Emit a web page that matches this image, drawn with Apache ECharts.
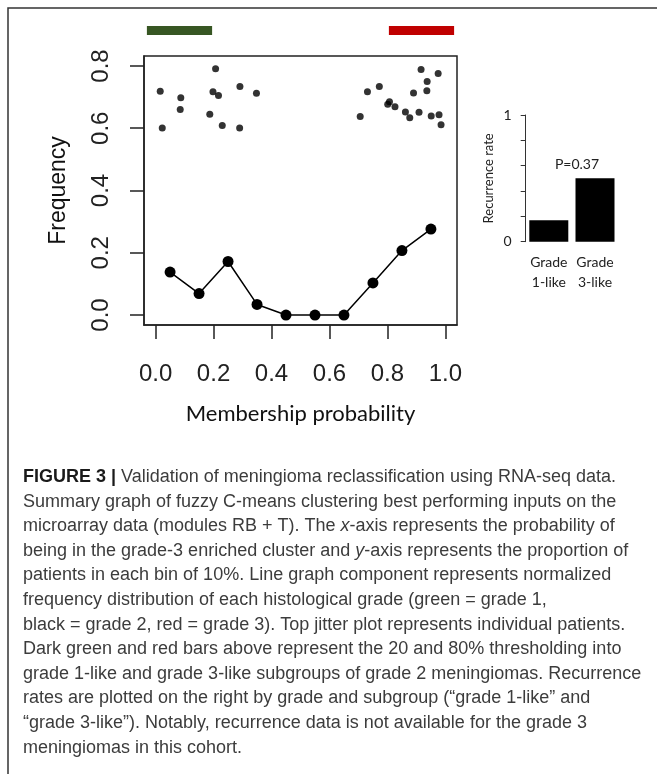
<!DOCTYPE html>
<html>
<head>
<meta charset="utf-8">
<script src="https://cdn.jsdelivr.net/npm/echarts@6/dist/echarts.min.js"></script>
<style>
  html, body { margin: 0; padding: 0; background: #fff; }
  #chart { width: 657px; height: 774px; }
</style>
</head>
<body>
<div id="chart"></div>
<script>
// jitter plot: one point per patient (membership probability, jitter height)
const patientProb = [
  0.016, 0.023, 0.087, 0.085, 0.207, 0.198, 0.217, 0.187, 0.230, 0.291, 0.290, 0.348,
  0.706, 0.731, 0.772, 0.807, 0.801, 0.826, 0.862, 0.877, 0.890, 0.909, 0.916, 0.937,
  0.936, 0.951, 0.975, 0.978, 0.985,
]
const patientJitter = [
  0.719, 0.601, 0.698, 0.660, 0.791, 0.717, 0.705, 0.645, 0.609, 0.734, 0.601, 0.712,
  0.638, 0.717, 0.734, 0.685, 0.677, 0.669, 0.652, 0.634, 0.713, 0.651, 0.789, 0.750,
  0.720, 0.639, 0.776, 0.643, 0.611,
]

// normalized frequency per 10% bin
const binCenters = [0.05, 0.15, 0.25, 0.35, 0.45, 0.55, 0.65, 0.75, 0.85, 0.95]
const binFreq = [0.138, 0.069, 0.172, 0.034, 0, 0, 0, 0.103, 0.207, 0.276]

// threshold bars above the plot (grade 1-like / grade 3-like)
const greenBar = [-0.03, 0.195]
const redBar = [0.805, 1.03]

// recurrence rate inset
const subgroups = ['Grade\n1-like', 'Grade\n3-like']
const recurrence = [0.17, 0.5]
const pValue = 'P=0.37'

const xTicks = [0, 0.2, 0.4, 0.6, 0.8, 1]
const yTicks = [0, 0.2, 0.4, 0.6, 0.8]
const insetTicks = [0, 1]

const captionLines = [
  '{b|FIGURE 3 |} Validation of meningioma reclassification using RNA-seq data.',
  'Summary graph of fuzzy C-means clustering best performing inputs on the',
  'microarray data (modules RB + T). The {i|x}-axis represents the probability of',
  'being in the grade-3 enriched cluster and {i|y}-axis represents the proportion of',
  'patients in each bin of 10%. Line graph component represents normalized',
  'frequency distribution of each histological grade (green = grade 1,',
  'black = grade 2, red = grade 3). Top jitter plot represents individual patients.',
  'Dark green and red bars above represent the 20 and 80% thresholding into',
  'grade 1-like and grade 3-like subgroups of grade 2 meningiomas. Recurrence',
  'rates are plotted on the right by grade and subgroup (\u201cgrade 1-like\u201d and',
  '\u201cgrade 3-like\u201d). Notably, recurrence data is not available for the grade 3',
  'meningiomas in this cohort.',
]

const chart = echarts.init(document.getElementById('chart'))

const axisColor = '#222'
const rFont = 'Liberation Sans'
const labelFont = 'Lato'
const capSize = 18

const captionText = captionLines.map((line, i) => ({
  type: 'text',
  x: 23,
  y: 477 + i * 24.6,
  style: {
    text: line,
    font: capSize + 'px "Liberation Sans"',
    fill: '#3c3c3c',
    verticalAlign: 'middle',
    rich: {
      b: { fontWeight: 'bold', fill: '#1a1a1a', fontSize: capSize, fontFamily: 'Liberation Sans' },
      i: { fontStyle: 'italic', fill: '#3c3c3c', fontSize: capSize, fontFamily: 'Liberation Sans' },
    },
  },
}))

chart.setOption({
  animation: false,
  backgroundColor: '#fff',
  grid: [
    // main plot
    { left: 144, top: 56, width: 313, height: 269, show: true, borderColor: axisColor, borderWidth: 1.5 },
    // threshold bars strip
    { left: 144, top: 26, width: 313, height: 9, show: false },
    // inset
    { left: 525.7, top: 115, width: 92.4, height: 126.7, show: false },
  ],
  xAxis: [
    {
      gridIndex: 0,
      type: 'value',
      min: -0.04,
      max: 1.04,
      axisLine: { show: true, onZero: false, lineStyle: { color: axisColor, width: 1.5 } },
      axisTick: { show: true, customValues: xTicks, length: 14, lineStyle: { color: axisColor, width: 1.5 } },
      axisLabel: {
        customValues: xTicks,
        formatter: v => v.toFixed(1),
        fontSize: 24,
        fontFamily: rFont,
        color: axisColor,
        margin: 37,
      },
      splitLine: { show: false },
      name: 'Membership probability',
      nameLocation: 'middle',
      nameGap: 78,
      nameTextStyle: { fontSize: 22, fontFamily: labelFont, color: '#111' },
    },
    {
      gridIndex: 1,
      type: 'value',
      min: -0.04,
      max: 1.04,
      show: false,
    },
    {
      gridIndex: 2,
      type: 'category',
      data: subgroups,
      axisLine: { show: false },
      axisTick: { show: false },
      axisLabel: { interval: 0, fontSize: 14, fontFamily: labelFont, color: '#222', lineHeight: 20, margin: 11 },
    },
  ],
  yAxis: [
    {
      gridIndex: 0,
      type: 'value',
      min: -0.032,
      max: 0.832,
      axisLine: { show: true, onZero: false, lineStyle: { color: axisColor, width: 1.5 } },
      axisTick: { show: true, customValues: yTicks, length: 14, lineStyle: { color: axisColor, width: 1.5 } },
      axisLabel: {
        customValues: yTicks,
        formatter: v => v.toFixed(1),
        rotate: 90,
        fontSize: 24,
        fontFamily: rFont,
        color: axisColor,
        margin: 31,
      },
      splitLine: { show: false },
      name: 'Frequency',
      nameLocation: 'middle',
      nameGap: 74,
      nameTextStyle: { fontSize: 23, fontFamily: rFont, color: '#111' },
    },
    {
      gridIndex: 1,
      type: 'value',
      min: 0,
      max: 1,
      show: false,
    },
    {
      gridIndex: 2,
      type: 'value',
      min: 0,
      max: 1,
      interval: 0.2,
      axisLine: { show: true, lineStyle: { color: '#333', width: 1 } },
      axisTick: { show: true, length: 5, lineStyle: { color: '#333', width: 1 } },
      axisLabel: { customValues: insetTicks, fontSize: 14, fontFamily: labelFont, color: '#222', margin: 14 },
      splitLine: { show: false },
      name: 'Recurrence rate',
      nameLocation: 'middle',
      nameGap: 30,
      nameTextStyle: { fontSize: 13, fontFamily: labelFont, color: '#222' },
    },
  ],
  series: [
    {
      name: 'patients',
      type: 'scatter',
      xAxisIndex: 0,
      yAxisIndex: 0,
      data: patientProb.map((p, i) => [p, patientJitter[i]]),
      symbolSize: 7,
      itemStyle: { color: '#000' },
    },
    {
      name: 'frequency',
      type: 'line',
      xAxisIndex: 0,
      yAxisIndex: 0,
      data: binCenters.map((c, i) => [c, binFreq[i]]),
      symbol: 'circle',
      symbolSize: 11,
      lineStyle: { color: '#000', width: 1.5 },
      itemStyle: { color: '#000' },
    },
    {
      name: 'grade 1-like',
      type: 'line',
      xAxisIndex: 1,
      yAxisIndex: 1,
      data: greenBar.map(x => [x, 0.5]),
      symbol: 'none',
      clip: false,
      lineStyle: { color: '#375623', width: 9, cap: 'butt' },
    },
    {
      name: 'grade 3-like',
      type: 'line',
      xAxisIndex: 1,
      yAxisIndex: 1,
      data: redBar.map(x => [x, 0.5]),
      symbol: 'none',
      clip: false,
      lineStyle: { color: '#c00000', width: 9, cap: 'butt' },
    },
    {
      name: 'recurrence',
      type: 'bar',
      xAxisIndex: 2,
      yAxisIndex: 2,
      data: recurrence,
      barWidth: 39,
      itemStyle: { color: '#000' },
    },
  ],
  graphic: [
    {
      type: 'rect',
      shape: { x: 8, y: 8, width: 700, height: 800 },
      style: { fill: 'none', stroke: '#333', lineWidth: 1.5 },
      silent: true,
    },
    {
      type: 'text',
      x: 577,
      y: 164,
      style: {
        text: pValue,
        font: '14px Lato',
        fill: '#222',
        align: 'center',
        verticalAlign: 'middle',
      },
    },
    ...captionText,
  ],
})
</script>
</body>
</html>
